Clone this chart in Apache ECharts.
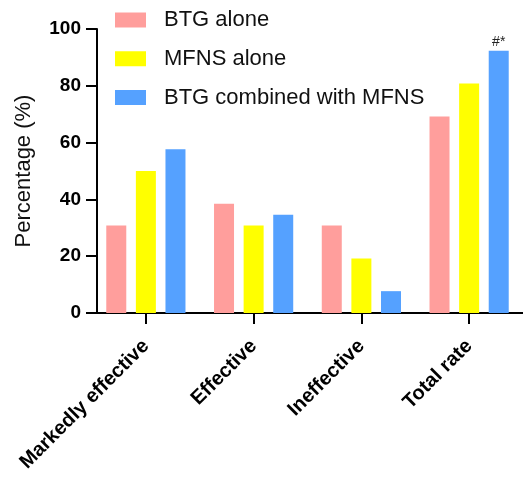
<!DOCTYPE html>
<html><head><meta charset="utf-8">
<script src="https://cdn.jsdelivr.net/npm/echarts@6/dist/echarts.min.js"></script>
<style>html,body{margin:0;padding:0;background:#fff}#c{width:523px;height:477px}</style>
</head><body><div id="c"></div>
<script>
const categories = ['Markedly effective', 'Effective', 'Ineffective', 'Total rate'];
const seriesNames = ['BTG alone', 'MFNS alone', 'BTG combined with MFNS'];
const btgAlone = [30.77, 38.46, 30.77, 69.23];
const mfnsAlone = [50.00, 30.77, 19.23, 80.77];
const combined = [57.69, 34.62, 7.69, 92.31];
const combinedMarks = ['', '', '', '#*'];
const yTicks = [0, 20, 40, 60, 80, 100];

const colors = ['#FF9E9C', '#FFFF00', '#55A1FF'];
const font = 'Liberation Sans, Arial, sans-serif';

const chart = echarts.init(document.getElementById('c'), null, {renderer: 'canvas'});
chart.setOption({
  animation: false,
  textStyle: {fontFamily: font},
  legend: {
    orient: 'vertical', left: 110, top: 4,
    icon: 'rect', itemWidth: 31, itemHeight: 15, itemGap: 16.75,
    data: seriesNames,
    textStyle: {fontFamily: font, fontSize: 22, lineHeight: 22, color: '#111', padding: [0,0,0,13]}
  },
  grid: {left: 92, right: -5, top: 29, bottom: 164, containLabel: false},
  xAxis: {
    type: 'category', data: categories,
    axisLine: {lineStyle: {color: '#000', width: 2}},
    axisTick: {show: true, alignWithLabel: true, length: 11, lineStyle: {color: '#000', width: 2}},
    axisLabel: {rotate: 45, interval: 0, margin: 30, fontFamily: font, fontSize: 20, fontWeight: 'bold', color: '#000'}
  },
  yAxis: {
    type: 'value', min: yTicks[0], max: yTicks[yTicks.length-1], interval: 20, offset: -5,
    name: 'Percentage (%)', nameLocation: 'middle', nameGap: 62,
    nameTextStyle: {fontFamily: font, fontSize: 22, color: '#111'},
    axisLine: {show: true, lineStyle: {color: '#000', width: 2}},
    axisTick: {show: true, length: 11, lineStyle: {color: '#000', width: 2}},
    axisLabel: {margin: 16, fontFamily: font, fontSize: 19, fontWeight: 'bold', color: '#000'},
    splitLine: {show: false}
  },
  series: [
    {name: seriesNames[0], type: 'bar', data: btgAlone, barWidth: 20, barGap: '48%', itemStyle: {color: colors[0]}},
    {name: seriesNames[1], type: 'bar', data: mfnsAlone, barWidth: 20, barGap: '48%', itemStyle: {color: colors[1]}},
    {name: seriesNames[2], type: 'bar', barWidth: 20, barGap: '48%', itemStyle: {color: colors[2]},
     data: combined.map((v, i) => ({
       value: v,
       label: {show: combinedMarks[i] !== '', position: 'top', distance: 2, formatter: combinedMarks[i] || '',
               fontFamily: font, fontSize: 14, color: '#222'}
     }))}
  ]
});
</script></body></html>
